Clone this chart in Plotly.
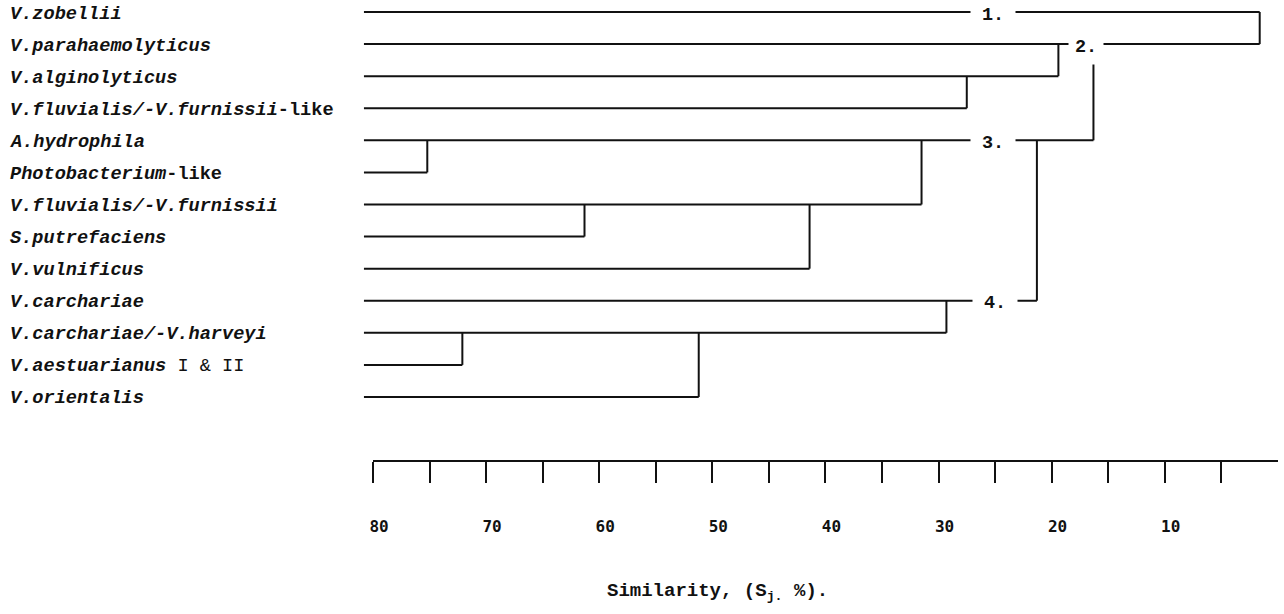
import plotly.graph_objects as go

# ---------------- data ----------------
leaves = [
    "<b><i>V.zobellii</i></b>",
    "<b><i>V.parahaemolyticus</i></b>",
    "<b><i>V.alginolyticus</i></b>",
    "<b><i>V.fluvialis/-V.furnissii</i>-like</b>",
    "<b><i>A.hydrophila</i></b>",
    "<b><i>Photobacterium</i>-like</b>",
    "<b><i>V.fluvialis/-V.furnissii</i></b>",
    "<b><i>S.putrefaciens</i></b>",
    "<b><i>V.vulnificus</i></b>",
    "<b><i>V.carchariae</i></b>",
    "<b><i>V.carchariae/-V.harveyi</i></b>",
    "<b><i>V.aestuarianus</i></b> I &amp; II",
    "<b><i>V.orientalis</i></b>",
]
# each merge joins the cluster drawn on row merge_top with the one on row merge_bottom
merge_top = [4, 6, 6, 4, 10, 10, 9, 4, 2, 1, 1, 0]
merge_bottom = [5, 7, 8, 6, 11, 12, 10, 9, 3, 2, 4, 1]
merge_similarity = [75.2, 61.3, 41.4, 31.5, 72.1, 51.2, 29.3, 21.3, 27.5, 19.4, 16.3, 1.6]
leaf_start = 80.8

cluster_labels = ["1.", "2.", "3.", "4."]
cluster_rows = [0, 1, 4, 9]
cluster_similarity = [25.2, 17.0, 25.2, 25.0]

tick_values = [80, 70, 60, 50, 40, 30, 20, 10]
minor_tick_values = [75, 65, 55, 45, 35, 25, 15, 5]
axis_title = "Similarity, (S<sub>j.</sub> %)."

# ---------------- geometry helpers ----------------
n = len(leaves)
row_end = [min(merge_similarity)] * n
for t, b, s in zip(merge_top, merge_bottom, merge_similarity):
    row_end[b] = s

hx, hy = [], []
for r in range(n):
    hx += [leaf_start, row_end[r], None]
    hy += [r, r, None]
vx, vy = [], []
for t, b, s in zip(merge_top, merge_bottom, merge_similarity):
    vx += [s, s, None]
    vy += [t, b, None]

LINE = dict(color="#111111", width=2)
fig = go.Figure()
fig.add_trace(go.Scatter(x=hx, y=hy, mode="lines", line=LINE, hoverinfo="skip", showlegend=False))
fig.add_trace(go.Scatter(x=vx, y=vy, mode="lines", line=LINE, hoverinfo="skip", showlegend=False))
# invisible helper so that the similarity scale axis is drawn
fig.add_trace(go.Scatter(x=tick_values, y=[0] * len(tick_values), xaxis="x2", yaxis="y2",
                         mode="markers", marker=dict(opacity=0), hoverinfo="skip", showlegend=False))

W, H = 1284, 614
px_per_unit = 11.31
x80 = 373
row0, row_step = 12.0, 32.08

annotations = []
MONO = "Liberation Mono"
for i, name in enumerate(leaves):
    annotations.append(dict(
        x=0, xref="paper", xshift=8, xanchor="left",
        y=i, yref="y", yshift=-2, yanchor="middle",
        text=name, showarrow=False,
        font=dict(family=MONO, size=18.6, color="#111111"),
    ))
for lab, r, s in zip(cluster_labels, cluster_rows, cluster_similarity):
    annotations.append(dict(
        x=s, xref="x", y=r, yref="y", yshift=-3,
        text="<b>%s</b>" % lab, showarrow=False,
        font=dict(family=MONO, size=18.5, color="#111111"),
        bgcolor="white", borderpad=11 if lab != "2." else 6,
        xanchor="center", yanchor="middle",
    ))
annotations.append(dict(
    x=717 / W, xref="paper", y=1 - 592 / H, yref="paper",
    text="<b>" + axis_title + "</b>", showarrow=False,
    font=dict(family=MONO, size=19, color="#111111"),
    xanchor="center", yanchor="middle",
))

axis_y = 460
fig.update_layout(
    width=W, height=H,
    margin=dict(l=0, r=0, t=0, b=0, autoexpand=False),
    plot_bgcolor="white", paper_bgcolor="white",
    showlegend=False,
    xaxis=dict(
        range=[80 + x80 / px_per_unit, 80 - (W - x80) / px_per_unit],
        visible=False, fixedrange=True, automargin=False,
    ),
    yaxis=dict(
        range=[(H - row0) / row_step, -row0 / row_step],
        visible=False, fixedrange=True, automargin=False,
    ),
    xaxis2=dict(
        domain=[x80 / W, (x80 + 80 * px_per_unit) / W],
        range=[80, 0], anchor="y2", automargin=False,
        showline=True, linecolor="#111111", linewidth=2,
        showgrid=False, zeroline=False,
        tickmode="array", tickvals=tick_values,
        ticks="outside", ticklen=21, tickwidth=2, tickcolor="#111111",
        minor=dict(tickmode="array", tickvals=minor_tick_values, ticks="outside",
                   ticklen=21, tickwidth=2, tickcolor="#111111", showgrid=False),
        tickfont=dict(family="DejaVu Sans Mono", size=16, color="#111111", weight="bold"),
        ticklabelstandoff=30, ticklabelshift=-6,
        fixedrange=True,
    ),
    yaxis2=dict(
        domain=[1 - axis_y / H, 1 - (axis_y - 20) / H],
        anchor="x2", visible=False, range=[0, 1], fixedrange=True, automargin=False,
    ),
    annotations=annotations,
)

fig.write_html("out.html", config={"displayModeBar": False},
               post_script="document.body.style.margin='0';")
